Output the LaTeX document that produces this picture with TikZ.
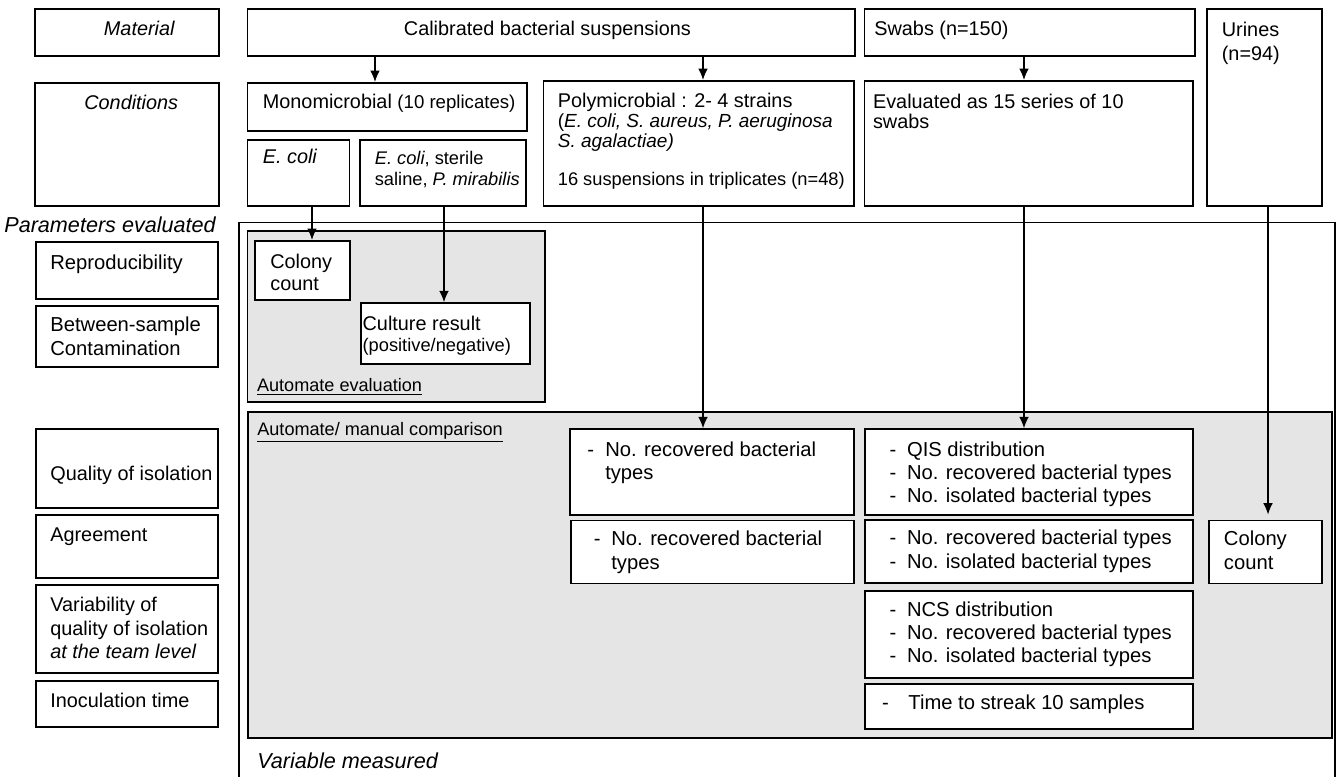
\documentclass[tikz,border=0pt]{standalone}
\usepackage{fontspec}
\setmainfont{Liberation Sans}
\usepackage{tikz}
\usetikzlibrary{positioning,fit}
\usetikzlibrary{arrows.meta}
\newcommand\cell[3]{%
\node[cell, fit={#2 #3}] (#1) {};
}
\newcommand\shcell[3]{%
\node[cell, fill=gray!20, fit={#2 #3}] (#1) {};
}
\newcommand\dsh[1]{\makebox[#1][l]{-}}

\begin{document}
\begin{tikzpicture}[x=0.02cm, y=-0.02cm,
	cell/.style={draw, line width=1.1pt, fill=white, inner sep=0pt},
	lbl/.style={anchor=base west, inner sep=0pt, align=left, font=\fontsize{11.3}{13.2}\selectfont},
	small/.style={font=\fontsize{10.3}{12}\selectfont},
	big/.style={font=\fontsize{12.3}{14}\selectfont\itshape},
	arr/.style={-{Latex[length=6.5pt,width=5.5pt]}, line width=0.8pt}]
	
	\useasboundingbox (0,0) rectangle (1340,777);
	
	%% columns of the arrows
	\coordinate (c1) at (375,0);
	\coordinate (c2) at (703,0);
	\coordinate (c3) at (1024,0);
	\coordinate (c4) at (312,0);
	\coordinate (c5) at (444,0);
	\coordinate (c6) at (1268,0);
	
	% frame of the measured variables (open at the bottom)
	\draw[line width=1.1pt] (238.6,790) -- (238.6,222.5) -- (1335,222.5) -- (1335,790);
	
	\shcell{autoev}{(247.5,231)}{(545,402)}
	\shcell{mancomp}{(248,412)}{(1332,738)}
	
	% material
	\cell{mat}{(35,9)}{(219,56)}
	\cell{calib}{(247.5,9)}{(854.8,56)}
	\cell{swab}{(864.5,9)}{(1194.6,56)}
	\cell{urine}{(1207,9)}{(1322,206)}
	
	% conditions
	\cell{cond}{(35,83)}{(219,206)}
	\cell{mono}{(247.5,83)}{(527,131)}
	\cell{ecoli}{(247.5,140)}{(349.5,206)}
	\cell{ecolim}{(360,140)}{(526,206)}
	\cell{poly}{(543.5,81)}{(854,206)}
	\cell{evalsw}{(864.5,81)}{(1193,206)}
	
	% parameters evaluated
	\cell{repro}{(35.7,242.3)}{(218.3,299.3)}
	\cell{betw}{(35.7,306)}{(218.3,367)}
	\cell{qual}{(35.7,429)}{(218.3,508)}
	\cell{agree}{(35.7,515)}{(218.3,578)}
	\cell{varia}{(35.7,585)}{(218.3,673)}
	\cell{inoc}{(35.7,681)}{(218.3,727)}
	
	% variables measured
	\cell{colA}{(255,241)}{(350,300)}
	\cell{cult}{(360.7,303.3)}{(530,364)}
	\cell{polyA}{(569.6,429.3)}{(853.8,515)}
	\cell{polyB}{(570.6,520.5)}{(853.8,583.5)}
	\cell{qis}{(865,429.3)}{(1193.3,515)}
	\cell{swB}{(865,520)}{(1193.3,583.3)}
	\cell{ncs}{(865,591)}{(1193.3,677.7)}
	\cell{time}{(865,684.3)}{(1193.3,729.3)}
	\cell{colB}{(1209.4,520.5)}{(1322,583.5)}
	
	%% texts (multi-line ones sit on their last baseline)
	\node[lbl] (matT) at (103.6,35.5) {\itshape Material};
	\node[lbl] (calT) at (403.6,35.5) {Calibrated bacterial suspensions};
	\node[lbl] (swT) at (874,35.5) {Swabs (n=150)};
	\node[lbl, font=\fontsize{11.3}{14.2}\selectfont] (urT) at (1221.5,61) {Urines\\(n=94)};
	
	\node[lbl] (condT) at (84,110) {\itshape Conditions};
	\node[lbl] (monoT) at (262.5,108.5) {Monomicrobial {\fontsize{10.6}{12}\selectfont (10 replicates)}};
	\node[lbl] (ecT) at (262.5,164) {\itshape E. coli};
	\node[lbl, font=\fontsize{10.4}{12.5}\selectfont] (ecmT) at (374.5,186) {{\itshape E. coli}, sterile\\saline, {\itshape P. mirabilis}};
	\node[lbl, font=\fontsize{11.3}{11.3}\selectfont] (polyT) at (557.5,147.5) {Polymicrobial : 2- 4 strains\\{\fontsize{10.8}{11.3}\selectfont({\itshape E. coli, S. aureus, P. aeruginosa}}\\{\fontsize{10.8}{11.3}\selectfont\itshape S. agalactiae)}};
	\node[lbl, font=\fontsize{10.4}{12}\selectfont] (poly4T) at (557.5,186) {16 suspensions in triplicates (n=48)};
	\node[lbl, font=\fontsize{11.3}{11.3}\selectfont] (evT) at (872.7,128.3) {Evaluated as 15 series of 10\\swabs};
	
	\node[lbl, big] (parT) at (4,233) {Parameters evaluated};
	\node[lbl, font=\fontsize{11.5}{13.2}\selectfont] (reproT) at (50,269.3) {Reproducibility};
	\node[lbl, font=\fontsize{11.5}{13.6}\selectfont] (betwT) at (50,355.7) {Between-sample\\Contamination};
	\node[lbl] (qualT) at (50,480) {Quality of isolation};
	\node[lbl] (agrT) at (50,541.7) {Agreement};
	\node[lbl] (varT) at (50,658.3) {Variability of\\quality of isolation\\{\itshape at the team level}};
	\node[lbl] (inocT) at (50,707.3) {Inoculation time};
	\node[lbl, big] (vmT) at (257,768.3) {Variable measured};
	
	\node[lbl, font=\fontsize{11.3}{12.7}\selectfont] (colAT) at (270,291) {Colony\\count};
	\node[lbl, font=\fontsize{11.3}{11.9}\selectfont] (cultT) at (362.3,351) {Culture result\\{\fontsize{10.4}{11.9}\selectfont (positive/negative)}};
	\node[lbl, small] (autoT) at (256.7,391.5) {\underline{Automate evaluation}};
	\node[lbl, small] (manT) at (257,435) {\underline{Automate/ manual comparison}};
	
	\node[lbl, font=\fontsize{11.5}{12.6}\selectfont] (polyAT) at (587,479) {\dsh{10.2pt}No. recovered bacterial\\\hspace*{10.2pt}types};
	\node[lbl, font=\fontsize{11.5}{13.4}\selectfont] (polyBT) at (593.6,569) {\dsh{9.9pt}No. recovered bacterial\\\hspace*{9.9pt}types};
	\node[lbl, font=\fontsize{11.5}{13}\selectfont] (qisT) at (889.3,502) {\dsh{9.9pt}QIS distribution\\\dsh{9.9pt}No. recovered bacterial types\\\dsh{9.9pt}No. isolated bacterial types};
	\node[lbl, font=\fontsize{11.5}{13.3}\selectfont] (swBT) at (889.3,568.3) {\dsh{9.9pt}No. recovered bacterial types\\\dsh{9.9pt}No. isolated bacterial types};
	\node[lbl, font=\fontsize{11.5}{13}\selectfont] (ncsT) at (889.3,662.3) {\dsh{9.9pt}NCS distribution\\\dsh{9.9pt}No. recovered bacterial types\\\dsh{9.9pt}No. isolated bacterial types};
	\node[lbl, font=\fontsize{11.5}{13}\selectfont] (timeT) at (881.7,709.3) {\dsh{15pt}Time to streak 10 samples};
	\node[lbl, font=\fontsize{11.5}{13.4}\selectfont] (colBT) at (1223.6,569) {Colony\\count};
	
	%% arrows
	\draw[arr] (calib.south -| c1) -- (mono.north -| c1);
	\draw[arr] (calib.south -| c2) -- (poly.north -| c2);
	\draw[arr] (swab.south -| c3) -- (evalsw.north -| c3);
	\draw[arr] (ecoli.south -| c4) -- (colA.north -| c4);
	\draw[arr] (ecolim.south -| c5) -- (cult.north -| c5);
	\draw[arr] (poly.south -| c2) -- (polyA.north -| c2);
	\draw[arr] (evalsw.south -| c3) -- (qis.north -| c3);
	\draw[arr, shorten >=2.8pt] (urine.south -| c6) -- (colB.north -| c6);
	
\end{tikzpicture}
\end{document}
